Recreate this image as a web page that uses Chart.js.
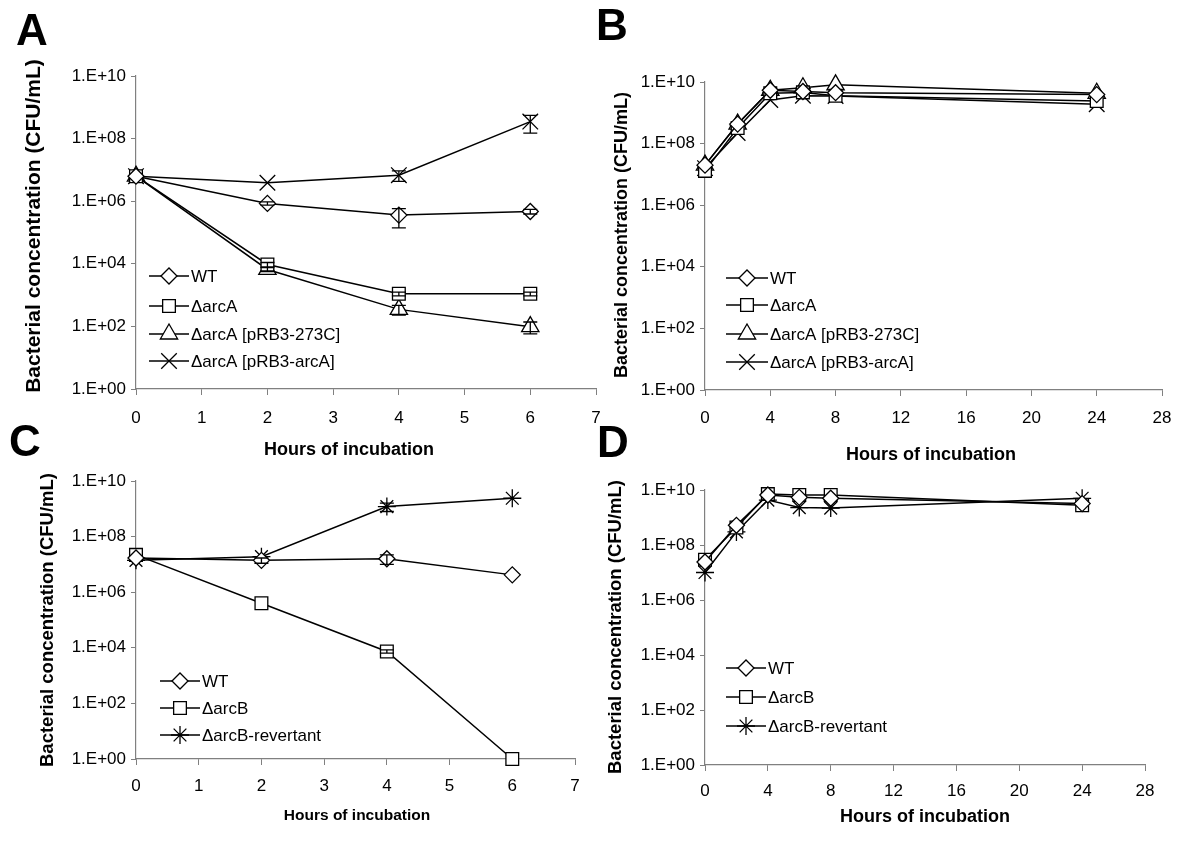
<!DOCTYPE html>
<html>
<head>
<meta charset="utf-8">
<script src="https://cdn.jsdelivr.net/npm/chart.js@4.4.0/dist/chart.umd.min.js"></script>
<style>
  html, body { margin: 0; padding: 0; background: #fff; }
  #fig { position: relative; width: 1200px; height: 857px; }
  #fig canvas { position: absolute; left: 0; top: 0; }
</style>
</head>
<body>
<div id="fig">
  <canvas id="pA" width="1200" height="857"></canvas>
  <canvas id="pB" width="1200" height="857"></canvas>
  <canvas id="pC" width="1200" height="857"></canvas>
  <canvas id="pD" width="1200" height="857"></canvas>
</div>
<script>
// sampling times (hours)
const hoursShort = [0, 2, 4, 6];
const hoursLong = [0, 2, 4, 6, 8, 24];
const yTicks = [1, 1e2, 1e4, 1e6, 1e8, 1e10];

const labelsArcA = ["WT", "ΔarcA", "ΔarcA [pRB3-273C]", "ΔarcA [pRB3-arcA]"];
const labelsArcB = ["WT", "ΔarcB", "ΔarcB-revertant"];
const stylesArcA = ["rectRot", "rect", "triangle", "crossRot"];
const stylesArcB = ["rectRot", "rect", "star"];

// A : short incubation, arcA strains (CFU/mL)
const aWT = [6.3e6, 8.5e5, 3.6e5, 4.7e5];
const aArcA = [6.3e6, 9.5e3, 1.1e3, 1.1e3];
const a273C = [6.3e6, 6.6e3, 3.5e2, 9.8e1];
const aPArcA = [6.3e6, 3.9e6, 6.8e6, 3.5e8];
// A : error bars (SD)
const aWTerr = [0, 1.0e5, 2.2e5, 0.8e5];
const aArcAerr = [0, 1.5e3, 1.5e2, 1.5e2];
const a273Cerr = [0, 1.0e3, 1.2e2, 4.0e1];
const aPArcAerr = [0, 0, 2.5e6, 2.0e8];

// B : long incubation, arcA strains
const bWT = [2.0e7, 4.3e8, 5.4e9, 4.9e9, 4.5e9, 3.9e9];
const bArcA = [1.3e7, 3.2e8, 4.3e9, 4.6e9, 3.6e9, 2.4e9];
const b273C = [2.0e7, 4.3e8, 5.4e9, 6.5e9, 8.1e9, 4.3e9];
const bPArcA = [1.6e7, 2.2e8, 2.6e9, 3.6e9, 3.5e9, 1.9e9];

// C : short incubation, arcB strains
const cWT = [1.7e7, 1.4e7, 1.6e7, 4.2e6];
const cArcB = [2.2e7, 4.0e5, 7.4e3, 1];
const cRev = [1.4e7, 1.9e7, 1.2e9, 2.4e9];
const cWTerr = [0, 3.0e6, 6.0e6, 0];
const cArcBerr = [0, 0, 1.0e3, 0];
const cReverr = [0, 0, 4.0e8, 0];

// D : long incubation, arcB strains
const dWT = [2.4e7, 5.2e8, 6.6e9, 5.4e9, 5.0e9, 3.2e9];
const dArcB = [2.9e7, 4.3e8, 7.1e9, 6.6e9, 6.6e9, 2.8e9];
const dRev = [1.0e7, 3.0e8, 4.3e9, 2.3e9, 2.2e9, 5.0e9];

Chart.defaults.font.family = "'Liberation Sans', Arial, sans-serif";
Chart.defaults.color = "#000";

const FONT = "'Liberation Sans', Arial, sans-serif";
const radius = { rectRot: 8, rect: 9, triangle: 10, crossRot: 11, star: 9 };

function expLabel(v) {
  const e = Math.round(Math.log10(v));
  return "1.E+" + String(e).padStart(2, "0");
}

function drawMarker(ctx, style, x, y) {
  ctx.fillStyle = "#fff";
  ctx.strokeStyle = "#000";
  ctx.lineWidth = 1.3;
  Chart.helpers.drawPoint(ctx, { pointStyle: style, radius: radius[style], borderWidth: 1.3, rotation: 0 }, x, y);
}

function makeDecor(p) {
  return {
    id: "decor",
    afterDatasetsDraw(chart) {
      const ctx = chart.ctx, xs = chart.scales.x, ys = chart.scales.y;
      ctx.save();
      ctx.strokeStyle = "#000";
      ctx.lineWidth = 1.3;
      chart.data.datasets.forEach(ds => {
        (ds.errors || []).forEach((e, j) => {
          if (!e) return;
          const pt = ds.data[j];
          const px = xs.getPixelForValue(pt.x);
          const top = ys.getPixelForValue(pt.y + e);
          const bot = ys.getPixelForValue(Math.max(pt.y - e, 1));
          ctx.beginPath();
          ctx.moveTo(px, top); ctx.lineTo(px, bot);
          ctx.moveTo(px - 7, top); ctx.lineTo(px + 7, top);
          ctx.moveTo(px - 7, bot); ctx.lineTo(px + 7, bot);
          ctx.stroke();
        });
      });
      ctx.restore();
    },
    afterDraw(chart) {
      const ctx = chart.ctx;
      ctx.save();
      ctx.fillStyle = "#000";
      // panel letter
      ctx.font = "bold 44px " + FONT;
      ctx.textAlign = "left";
      ctx.textBaseline = "alphabetic";
      ctx.fillText(p.letter, p.letterPos[0], p.letterPos[1]);
      // axis titles
      ctx.textAlign = "center";
      ctx.textBaseline = "middle";
      ctx.font = "bold " + p.xTitleSize + "px " + FONT;
      ctx.fillText("Hours of incubation", p.xTitlePos[0], p.xTitlePos[1]);
      ctx.save();
      ctx.translate(p.yTitlePos[0], p.yTitlePos[1]);
      ctx.rotate(-Math.PI / 2);
      ctx.font = "bold " + p.yTitleSize + "px " + FONT;
      ctx.fillText("Bacterial concentration (CFU/mL)", 0, 0);
      ctx.restore();
      // legend inside plot
      ctx.font = "17px " + FONT;
      ctx.textAlign = "left";
      chart.data.datasets.forEach((ds, i) => {
        const y = p.legendRows[i];
        ctx.strokeStyle = "#000";
        ctx.lineWidth = 1.5;
        ctx.beginPath();
        ctx.moveTo(p.legendX[0], y);
        ctx.lineTo(p.legendX[1], y);
        ctx.stroke();
        drawMarker(ctx, ds.pointStyle, (p.legendX[0] + p.legendX[1]) / 2, y);
        ctx.fillStyle = "#000";
        ctx.fillText(ds.label, p.legendX[1] + 2, y + 1);
      });
      ctx.restore();
    }
  };
}

function panel(id, p) {
  const datasets = p.series.map((s, i) => ({
    label: p.labels[i],
    data: p.hours.map((h, j) => ({ x: h, y: s[j] })),
    errors: p.errors ? p.errors[i] : null,
    borderColor: "#000",
    borderWidth: 1.5,
    pointStyle: p.styles[i],
    pointRadius: radius[p.styles[i]],
    pointBackgroundColor: "#fff",
    pointBorderColor: "#000",
    pointBorderWidth: 1.3,
    tension: 0,
    clip: false
  }));
  new Chart(document.getElementById(id), {
    type: "line",
    data: { datasets },
    options: {
      responsive: false,
      animation: false,
      devicePixelRatio: 1,
      layout: { padding: { left: 0, top: p.area.top, right: 1200 - p.area.right, bottom: 0 } },
      plugins: { legend: { display: false }, tooltip: { enabled: false } },
      scales: {
        x: {
          type: "linear",
          min: 0,
          max: p.xMax,
          afterFit: s => { s.height = 857 - p.area.bottom; },
          ticks: { stepSize: p.xStep, font: { size: 17 }, padding: p.xPad, maxRotation: 0 },
          grid: { drawOnChartArea: false, tickLength: 6, color: "#808080" },
          border: { color: "#808080", width: 1.2 }
        },
        y: {
          type: "logarithmic",
          min: 1,
          max: 1e10,
          afterFit: s => { s.width = p.area.left; },
          afterBuildTicks: s => { s.ticks = yTicks.map(v => ({ value: v })); },
          ticks: { callback: v => expLabel(v), font: { size: 17 }, padding: 5 },
          grid: { drawOnChartArea: false, tickLength: 5, color: "#808080" },
          border: { color: "#808080", width: 1.2 }
        }
      }
    },
    plugins: [makeDecor(p)]
  });
}

panel("pA", {
  area: { left: 136, right: 596, top: 76, bottom: 389 },
  hours: hoursShort, xMax: 7, xStep: 1, xPad: 13,
  series: [aWT, aArcA, a273C, aPArcA],
  errors: [aWTerr, aArcAerr, a273Cerr, aPArcAerr],
  labels: labelsArcA, styles: stylesArcA,
  letter: "A", letterPos: [16, 45],
  xTitlePos: [349, 450], xTitleSize: 18,
  yTitlePos: [34, 226], yTitleSize: 21,
  legendX: [149, 189], legendRows: [276, 306, 334, 361]
});

panel("pB", {
  area: { left: 705, right: 1162, top: 82, bottom: 390 },
  hours: hoursLong, xMax: 28, xStep: 4, xPad: 12,
  series: [bWT, bArcA, b273C, bPArcA],
  labels: labelsArcA, styles: stylesArcA,
  letter: "B", letterPos: [596, 40],
  xTitlePos: [931, 455], xTitleSize: 18,
  yTitlePos: [622, 235], yTitleSize: 18,
  legendX: [726, 768], legendRows: [278, 305, 334, 362]
});

panel("pC", {
  area: { left: 136, right: 575, top: 481, bottom: 759 },
  hours: hoursShort, xMax: 7, xStep: 1, xPad: 11,
  series: [cWT, cArcB, cRev],
  errors: [cWTerr, cArcBerr, cReverr],
  labels: labelsArcB, styles: stylesArcB,
  letter: "C", letterPos: [9, 456],
  xTitlePos: [357, 816], xTitleSize: 15.5,
  yTitlePos: [48, 620], yTitleSize: 18.5,
  legendX: [160, 200], legendRows: [681, 708, 735]
});

panel("pD", {
  area: { left: 705, right: 1145, top: 490, bottom: 765 },
  hours: hoursLong, xMax: 28, xStep: 4, xPad: 10,
  series: [dWT, dArcB, dRev],
  labels: labelsArcB, styles: stylesArcB,
  letter: "D", letterPos: [597, 457],
  xTitlePos: [925, 817], xTitleSize: 18,
  yTitlePos: [616, 627], yTitleSize: 18.5,
  legendX: [726, 766], legendRows: [668, 697, 726]
});
</script>
</body>
</html>
